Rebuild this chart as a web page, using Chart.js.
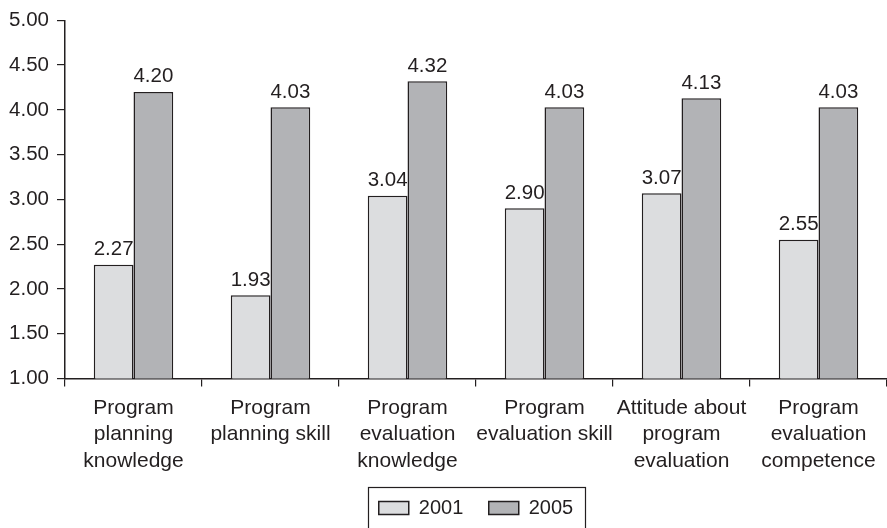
<!DOCTYPE html>
<html>
<head>
<meta charset="utf-8">
<style>
  html, body { margin: 0; padding: 0; background: #ffffff; }
  #wrap { width: 887px; height: 528px; position: relative; }
</style>
<script src="https://cdn.jsdelivr.net/npm/chart.js@4.4.1/dist/chart.umd.min.js"></script>
</head>
<body>
<div id="wrap"><canvas id="c" width="887" height="528"></canvas></div>
<script>
const categories = [
  ["Program", "planning", "knowledge"],
  ["Program", "planning skill"],
  ["Program", "evaluation", "knowledge"],
  ["Program", "evaluation skill"],
  ["Attitude about", "program", "evaluation"],
  ["Program", "evaluation", "competence"]
];
const series2001 = [2.27, 1.93, 3.04, 2.90, 3.07, 2.55];
const series2005 = [4.20, 4.03, 4.32, 4.03, 4.13, 4.03];
const seriesNames = ["2001", "2005"];
const yTickValues = [1.00, 1.50, 2.00, 2.50, 3.00, 3.50, 4.00, 4.50, 5.00];

const INK = '#231f20';
const FONT = "'Liberation Sans', Arial, Helvetica, sans-serif";

const valueLabels = {
  id: 'valueLabels',
  afterDatasetsDraw(chart) {
    const ctx = chart.ctx;
    ctx.save();
    ctx.font = "20.5px " + FONT;
    ctx.fillStyle = INK;
    ctx.textAlign = 'center';
    ctx.textBaseline = 'alphabetic';
    chart.data.datasets.forEach((ds, di) => {
      const meta = chart.getDatasetMeta(di);
      meta.data.forEach((bar, i) => {
        ctx.fillText(Number(ds.data[i]).toFixed(2), bar.x, bar.y - 9.5);
      });
    });
    ctx.restore();
  }
};

const legendFrame = {
  id: 'legendFrame',
  afterDraw(chart) {
    const lg = chart.legend;
    if (!lg || !lg.legendHitBoxes || !lg.legendHitBoxes.length) return;
    const boxes = lg.legendHitBoxes;
    const left = Math.min(...boxes.map(b => b.left)) - 11;
    const right = Math.max(...boxes.map(b => b.left + b.width)) + 12;
    const top = boxes[0].top + boxes[0].height / 2 - 21;
    const ctx = chart.ctx;
    ctx.save();
    ctx.strokeStyle = INK;
    ctx.lineWidth = 1.2;
    ctx.strokeRect(Math.round(left) + 0.5, Math.round(top) + 0.5, Math.round(right - left), 80);
    ctx.restore();
  }
};

new Chart(document.getElementById('c'), {
  type: 'bar',
  data: {
    labels: categories,
    datasets: [
      {
        label: seriesNames[0],
        data: series2001,
        backgroundColor: '#dcdddf',
        borderColor: INK,
        borderWidth: 1.5,
        barPercentage: 1.0,
        categoryPercentage: 0.58
      },
      {
        label: seriesNames[1],
        data: series2005,
        backgroundColor: '#b2b3b6',
        borderColor: INK,
        borderWidth: 1.5,
        barPercentage: 1.0,
        categoryPercentage: 0.58
      }
    ]
  },
  options: {
    responsive: false,
    animation: false,
    devicePixelRatio: 1,
    layout: { padding: { top: 19, right: 0, left: 0, bottom: 0 } },
    plugins: {
      legend: {
        display: true,
        position: 'bottom',
        fullSize: false,
        labels: {
          boxWidth: 30,
          boxHeight: 13,
          padding: 25.5,
          color: INK,
          font: { size: 20, family: FONT }
        }
      },
      tooltip: { enabled: false },
      title: { display: false }
    },
    scales: {
      x: {
        offset: true,
        grid: {
          offset: true,
          drawOnChartArea: false,
          drawTicks: true,
          tickLength: 8,
          color: INK,
          lineWidth: 1.2
        },
        border: { display: true, color: INK, width: 1.5 },
        ticks: {
          color: INK,
          padding: 8,
          maxRotation: 0,
          autoSkip: false,
          font: { size: 21, family: FONT, lineHeight: 1.27 }
        },
        afterFit(scale) { scale.height = 94; }
      },
      y: {
        min: 1,
        max: 5,
        afterBuildTicks(scale) { scale.ticks = yTickValues.map(v => ({ value: v })); },
        grid: {
          drawOnChartArea: false,
          drawTicks: true,
          tickLength: 8,
          color: INK,
          lineWidth: 1.2
        },
        border: { display: true, color: INK, width: 1.5 },
        ticks: {
          color: INK,
          padding: 8,
          font: { size: 20.5, family: FONT },
          callback: (v) => Number(v).toFixed(2)
        },
        afterFit(scale) { scale.width = 65; }
      }
    }
  },
  plugins: [valueLabels, legendFrame]
});
</script>
</body>
</html>
